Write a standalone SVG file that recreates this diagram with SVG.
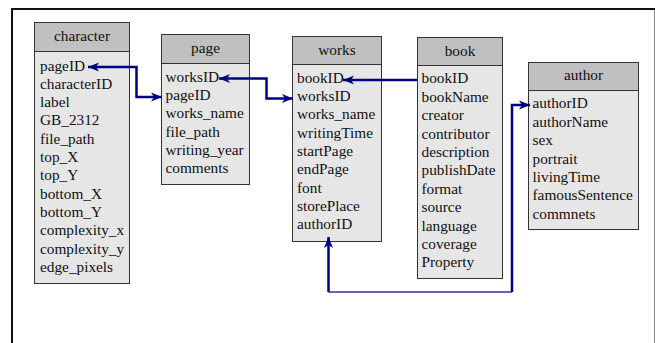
<svg xmlns="http://www.w3.org/2000/svg" width="655" height="343" viewBox="0 0 655 343" font-family="'Liberation Serif', 'DejaVu Serif', serif">
<style>
.hd{fill:#c0c0c0;stroke:#333;stroke-width:1}
.bd{fill:#e6e6e6;stroke:#333;stroke-width:1}
text{font-family:'Liberation Serif','DejaVu Serif',serif;font-size:15.3px;fill:#111}
.t{text-anchor:middle}
.c{fill:none;stroke:#000080;stroke-width:2.5}
</style>
<defs>
<marker id="ah" markerUnits="userSpaceOnUse" markerWidth="12" markerHeight="10" refX="11" refY="5" orient="auto-start-reverse" viewBox="0 0 12 10">
<path d="M0,0.5 L11,5 L0,9.5 L3,5 z" fill="#000080"/>
</marker>
</defs>
<g id="frame">
<line x1="11" y1="9" x2="655" y2="9" stroke="#111" stroke-width="2"/>
<line x1="12" y1="8" x2="12" y2="343" stroke="#111" stroke-width="2"/>
<line x1="654.5" y1="10" x2="654.5" y2="343" stroke="#888" stroke-width="1"/>
</g>
<g id="character">
<rect class="hd" x="34.5" y="22.5" width="95" height="29"/>
<rect class="bd" x="34.5" y="51.5" width="95" height="232"/>
<text class="t" x="82" y="40.5">character</text>
<text x="40" y="70.5">pageID</text>
<text x="40" y="88.8">characterID</text>
<text x="40" y="107.1">label</text>
<text x="40" y="125.4">GB_2312</text>
<text x="40" y="143.7">file_path</text>
<text x="40" y="162">top_X</text>
<text x="40" y="180.3">top_Y</text>
<text x="40" y="198.6">bottom_X</text>
<text x="40" y="216.9">bottom_Y</text>
<text x="40" y="235.2">complexity_x</text>
<text x="40" y="253.5">complexity_y</text>
<text x="40" y="271.8">edge_pixels</text>
</g>
<g id="page">
<rect class="hd" x="161.5" y="34.5" width="88" height="29"/>
<rect class="bd" x="161.5" y="63.5" width="88" height="121"/>
<text class="t" x="205.5" y="53">page</text>
<text x="165.5" y="81.7">worksID</text>
<text x="165.5" y="100">pageID</text>
<text x="165.5" y="118.3">works_name</text>
<text x="165.5" y="136.6">file_path</text>
<text x="165.5" y="154.9">writing_year</text>
<text x="165.5" y="173.2">comments</text>
</g>
<g id="works">
<rect class="hd" x="292.5" y="36.5" width="89" height="28"/>
<rect class="bd" x="292.5" y="64.5" width="89" height="177"/>
<text class="t" x="337" y="55">works</text>
<text x="297" y="82.7">bookID</text>
<text x="297" y="101">worksID</text>
<text x="297" y="119.3">works_name</text>
<text x="297" y="137.6">writingTime</text>
<text x="297" y="155.9">startPage</text>
<text x="297" y="174.2">endPage</text>
<text x="297" y="192.5">font</text>
<text x="297" y="210.8">storePlace</text>
<text x="297" y="229.1">authorID</text>
</g>
<g id="book">
<rect class="hd" x="417.5" y="37.5" width="85" height="28"/>
<rect class="bd" x="417.5" y="65.5" width="85" height="213"/>
<text class="t" x="460" y="55.5">book</text>
<text x="421.5" y="83.3">bookID</text>
<text x="421.5" y="101.7">bookName</text>
<text x="421.5" y="120.1">creator</text>
<text x="421.5" y="138.5">contributor</text>
<text x="421.5" y="156.9">description</text>
<text x="421.5" y="175.3">publishDate</text>
<text x="421.5" y="193.7">format</text>
<text x="421.5" y="212.1">source</text>
<text x="421.5" y="230.5">language</text>
<text x="421.5" y="248.9">coverage</text>
<text x="421.5" y="267.3">Property</text>
</g>
<g id="author">
<rect class="hd" x="528.5" y="62.5" width="110" height="28"/>
<rect class="bd" x="528.5" y="90.5" width="110" height="139"/>
<text class="t" x="583.5" y="80">author</text>
<text x="532.5" y="108.3">authorID</text>
<text x="532.5" y="126.7">authorName</text>
<text x="532.5" y="145.1">sex</text>
<text x="532.5" y="163.5">portrait</text>
<text x="532.5" y="181.9">livingTime</text>
<text x="532.5" y="200.3">famousSentence</text>
<text x="532.5" y="218.7">commnets</text>
</g>
<g id="connectors">
<polyline class="c" points="88,67 136.5,67 136.5,97 162,97" marker-start="url(#ah)" marker-end="url(#ah)"/>
<polyline class="c" points="219,78.5 266.5,78.5 266.5,98.5 293,98.5" marker-start="url(#ah)" marker-end="url(#ah)"/>
<polyline class="c" points="417,80 343,80" marker-end="url(#ah)"/>
<polyline fill="none" stroke="#3030a0" stroke-width="1.5" points="328.5,292 512,292"/>
<polyline class="c" points="512,292 512,105 530,105" marker-end="url(#ah)"/>
<polyline class="c" points="328.5,292 328.5,237" marker-end="url(#ah)"/>
</g>
</svg>
